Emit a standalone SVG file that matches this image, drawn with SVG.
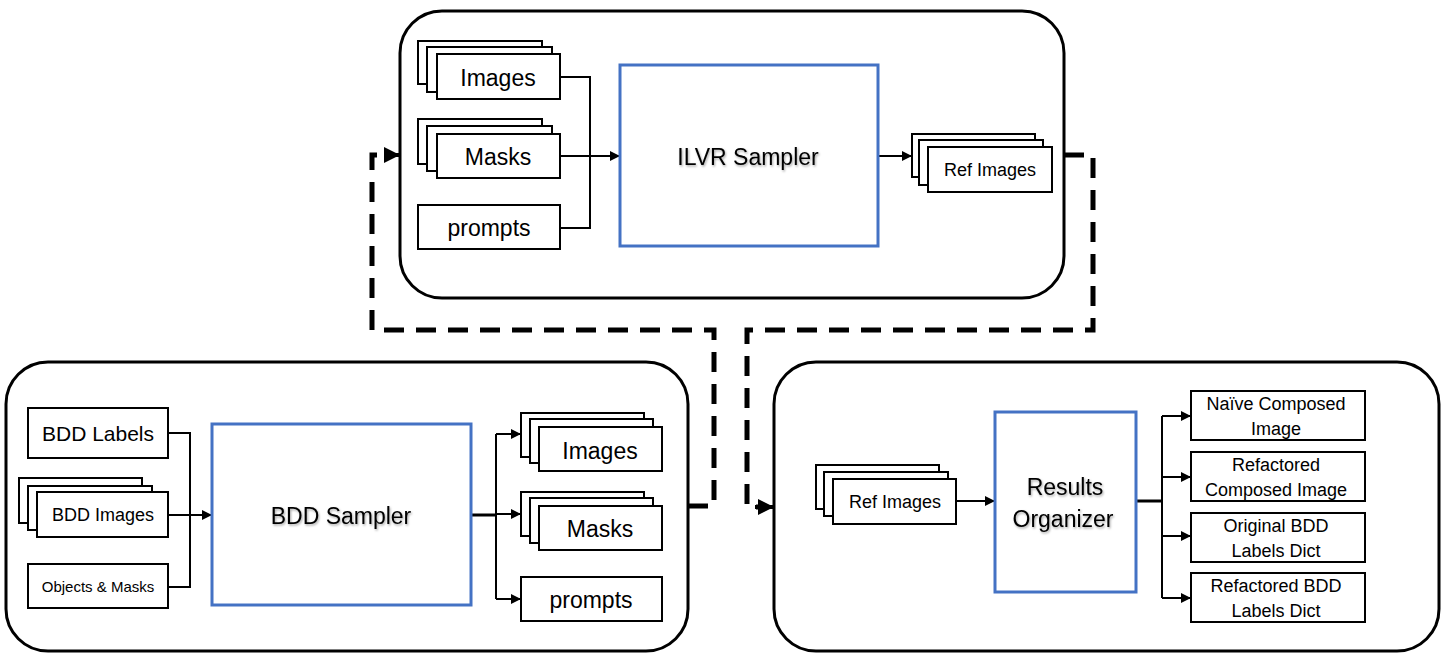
<svg xmlns="http://www.w3.org/2000/svg" width="1445" height="662" viewBox="0 0 1445 662">
<defs>
<style>
.panel{fill:#fff;stroke:#000;stroke-width:3}
.box{fill:#fff;stroke:#000;stroke-width:2}
.proc{fill:#fff;stroke:#4472C4;stroke-width:3}
.t{font-family:"Liberation Sans",Arial,sans-serif;fill:#000;text-anchor:middle;dominant-baseline:central}
.t20{font-size:21px}
.t23{font-size:23px}
.t17{font-size:18px}
.t14{font-size:15px}
.tp{font-size:23px;filter:url(#sh)}
.wire{fill:none;stroke:#000;stroke-width:2}
.dash{fill:none;stroke:#000;stroke-width:5;stroke-dasharray:20 12}
</style>
<marker id="a" viewBox="0 0 10 10" refX="10" refY="5" markerWidth="10" markerHeight="10" markerUnits="userSpaceOnUse" orient="auto">
<path d="M0,0 L10,5 L0,10 z" fill="#000"/>
</marker>
<marker id="A" viewBox="0 0 10 10" refX="10" refY="5" markerWidth="18" markerHeight="16" markerUnits="userSpaceOnUse" orient="auto">
<path d="M0,0 L10,5 L0,10 z" fill="#000"/>
</marker>
<filter id="sh" x="-10%" y="-10%" width="130%" height="140%">
<feDropShadow dx="1" dy="1.5" stdDeviation="0.8" flood-color="#000" flood-opacity="0.35"/>
</filter>
</defs>

<g id="panel-ilvr"><rect class="panel" x="400" y="11" width="664" height="287" rx="42"/></g>
<g id="panel-bdd"><rect class="panel" x="6" y="362" width="682" height="289" rx="42"/></g>
<g id="panel-results"><rect class="panel" x="774" y="362" width="665" height="289" rx="42"/></g>

<g id="connectors">
<path class="wire" d="M560,77 H590 V228 H560"/>
<path class="wire" d="M560,156 H620" marker-end="url(#a)"/>
<path class="wire" d="M878,156 H912" marker-end="url(#a)"/>
<path class="wire" d="M168,433 H190 V587 H168"/>
<path class="wire" d="M168,515 H212" marker-end="url(#a)"/>
<path class="wire" d="M471,515 H496" style="stroke-width:3"/>
<path class="wire" d="M496,434 V599"/>
<path class="wire" d="M496,434 H521" marker-end="url(#a)"/>
<path class="wire" d="M496,514 H521" marker-end="url(#a)"/>
<path class="wire" d="M496,599 H521" marker-end="url(#a)"/>
<path class="wire" d="M956,501 H995" marker-end="url(#a)"/>
<path class="wire" d="M1136,501 H1162" style="stroke-width:3"/>
<path class="wire" d="M1162,416 V598"/>
<path class="wire" d="M1162,416 H1191" marker-end="url(#a)"/>
<path class="wire" d="M1162,477 H1191" marker-end="url(#a)"/>
<path class="wire" d="M1162,536 H1191" marker-end="url(#a)"/>
<path class="wire" d="M1162,598 H1191" marker-end="url(#a)"/>
<path class="dash" d="M688,506 H714 V330 H372 V155 H385"/>
<path class="wire" d="M384,155 H400" marker-end="url(#A)" style="stroke-width:4"/>
<path class="dash" d="M1064,155 H1093 V330 H747 V507 H760"/>
<path class="wire" d="M755,507 H774" marker-end="url(#A)" style="stroke-width:4"/>
</g>

<g id="ilvr-images">
<rect class="box" x="418" y="41" width="124" height="43"/>
<rect class="box" x="427" y="47" width="125" height="45"/>
<rect class="box" x="437" y="54" width="123" height="45"/>
<text class="t t23" x="498" y="78">Images</text>
</g>
<g id="ilvr-masks">
<rect class="box" x="418" y="119" width="124" height="45"/>
<rect class="box" x="427" y="126" width="125" height="45"/>
<rect class="box" x="437" y="134" width="123" height="44"/>
<text class="t t23" x="498" y="157">Masks</text>
</g>
<g id="ilvr-prompts">
<rect class="box" x="418" y="205" width="142" height="44"/>
<text class="t t23" x="489" y="228">prompts</text>
</g>
<g id="ilvr-sampler">
<rect class="proc" x="620" y="65" width="258" height="181"/>
<text class="t tp" x="748" y="157">ILVR Sampler</text>
</g>
<g id="ilvr-ref-images">
<rect class="box" x="912" y="134" width="123" height="43"/>
<rect class="box" x="919" y="140" width="124" height="45"/>
<rect class="box" x="928" y="147" width="124" height="45"/>
<text class="t t17" x="990" y="170">Ref Images</text>
</g>

<g id="bdd-labels">
<rect class="box" x="28" y="408" width="140" height="50"/>
<text class="t t20" x="98" y="433">BDD Labels</text>
</g>
<g id="bdd-images">
<rect class="box" x="19" y="478" width="123" height="45"/>
<rect class="box" x="28" y="486" width="124" height="44"/>
<rect class="box" x="37" y="492" width="131" height="45"/>
<text class="t t17" x="103" y="515">BDD Images</text>
</g>
<g id="bdd-objects">
<rect class="box" x="28" y="564" width="140" height="44"/>
<text class="t t14" x="98" y="586">Objects &amp; Masks</text>
</g>
<g id="bdd-sampler">
<rect class="proc" x="212" y="424" width="259" height="181"/>
<text class="t tp" x="341" y="516">BDD Sampler</text>
</g>
<g id="bdd-out-images">
<rect class="box" x="521" y="413" width="123" height="44"/>
<rect class="box" x="530" y="419" width="123" height="44"/>
<rect class="box" x="539" y="427" width="123" height="44"/>
<text class="t t23" x="600" y="451">Images</text>
</g>
<g id="bdd-out-masks">
<rect class="box" x="521" y="492" width="123" height="44"/>
<rect class="box" x="530" y="498" width="123" height="45"/>
<rect class="box" x="539" y="506" width="123" height="44"/>
<text class="t t23" x="600" y="529">Masks</text>
</g>
<g id="bdd-out-prompts">
<rect class="box" x="521" y="577" width="141" height="44"/>
<text class="t t23" x="591" y="600">prompts</text>
</g>

<g id="res-ref-images">
<rect class="box" x="816" y="465" width="123" height="44"/>
<rect class="box" x="824" y="472" width="124" height="44"/>
<rect class="box" x="833" y="479" width="123" height="45"/>
<text class="t t17" x="895" y="502">Ref Images</text>
</g>
<g id="results-organizer">
<rect class="proc" x="995" y="412" width="141" height="180"/>
<text class="t tp" x="1065" y="487">Results</text>
<text class="t tp" x="1063" y="519">Organizer</text>
</g>
<g id="out-naive">
<rect class="box" x="1191" y="391" width="174" height="49"/>
<text class="t t17" x="1276" y="404">Naïve Composed</text>
<text class="t t17" x="1276" y="429">Image</text>
</g>
<g id="out-refactored-img">
<rect class="box" x="1191" y="452" width="174" height="49"/>
<text class="t t17" x="1276" y="465">Refactored</text>
<text class="t t17" x="1276" y="490">Composed Image</text>
</g>
<g id="out-original-dict">
<rect class="box" x="1191" y="513" width="174" height="49"/>
<text class="t t17" x="1276" y="526">Original BDD</text>
<text class="t t17" x="1276" y="551">Labels Dict</text>
</g>
<g id="out-refactored-dict">
<rect class="box" x="1191" y="573" width="174" height="49"/>
<text class="t t17" x="1276" y="586">Refactored BDD</text>
<text class="t t17" x="1276" y="611">Labels Dict</text>
</g>
</svg>
